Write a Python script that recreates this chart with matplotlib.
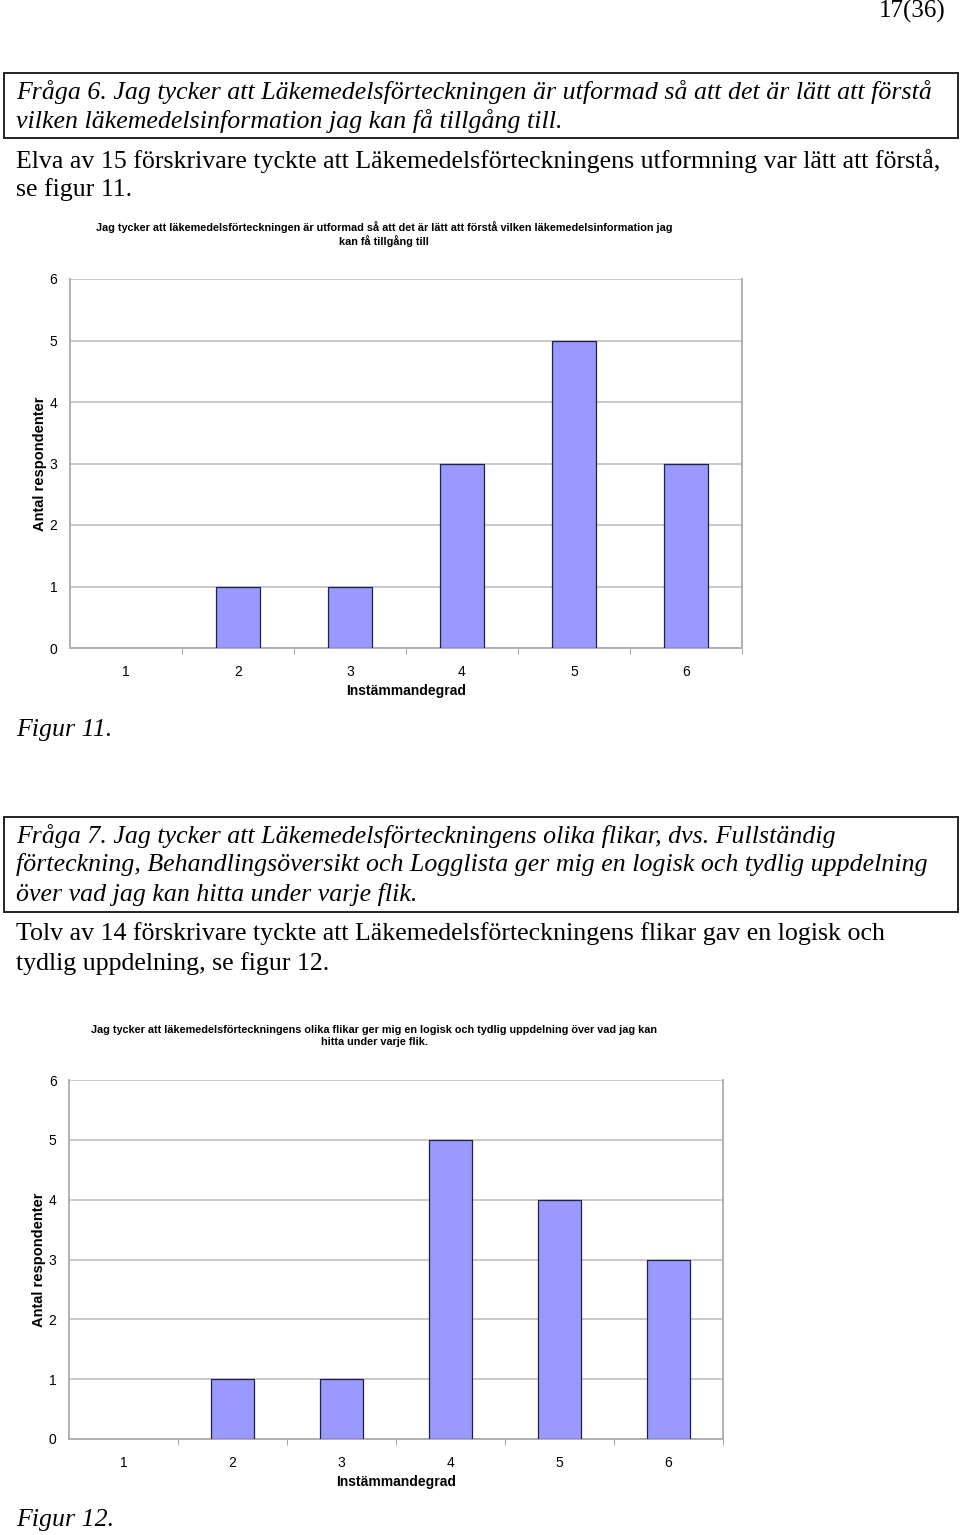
import matplotlib
matplotlib.use("Agg")
import matplotlib.pyplot as plt
from matplotlib.patches import Rectangle

W, H = 960, 1535

# data
categories = [1, 2, 3, 4, 5, 6]
fig11_values = [0, 1, 1, 3, 5, 3]
fig12_values = [0, 1, 1, 5, 4, 3]
yticks = [0, 1, 2, 3, 4, 5, 6]

fig11_title = ("Jag tycker att läkemedelsförteckningen är utformad så att det är lätt att förstå vilken läkemedelsinformation jag\n"
               "kan få tillgång till")
fig12_title = ("Jag tycker att läkemedelsförteckningens olika flikar ger mig en logisk och tydlig uppdelning över vad jag kan\n"
               "hitta under varje flik.")

serif = ["Liberation Serif", "DejaVu Serif"]
sans = ["Liberation Sans Narrow", "Liberation Sans", "DejaVu Sans"]
BODY = 18.6

fig = plt.figure(figsize=(W / 100, H / 100), dpi=100)


def fx(x):
    return x / W


def fy(y):
    return 1 - y / H


def txt(x, y, s, size, style="normal", ha="left", family=serif, weight="normal"):
    fig.text(fx(x), fy(y), s, fontsize=size, style=style, ha=ha, va="center",
             family=family, weight=weight)


def box(y0, y1):
    fig.patches.append(Rectangle((fx(4), fy(y1)), fx(954), (y1 - y0) / H,
                                 transform=fig.transFigure, fill=False,
                                 edgecolor="#222222", lw=1.4))


def chart(left, right, top, bottom, values, title, title_y, title_x, xlabel_y):
    ax = fig.add_axes([fx(left), fy(bottom), (right - left) / W, (bottom - top) / H])
    # empty categories get no outline
    lws = [0.9 if v > 0 else 0 for v in values]
    ax.bar(categories, values, width=0.4, color="#9999ff", edgecolor="#20204a",
           linewidth=lws, zorder=3)
    ax.set_xlim(0.5, 6.5)
    ax.set_ylim(0, 6)
    ax.set_yticks(yticks)
    ax.set_xticks(categories)
    ax.set_xticks([c + 0.5 for c in categories], minor=True)
    ax.tick_params(axis="x", which="major", length=0, pad=12, labelsize=10)
    ax.tick_params(axis="x", which="minor", length=4, color="#999999", direction="out")
    ax.tick_params(axis="y", length=0, pad=9, labelsize=10)
    for lab in ax.get_xticklabels() + ax.get_yticklabels():
        lab.set_family(sans)
    ax.yaxis.grid(True, color="#c0c0c0", lw=1.2, zorder=0)
    for sp in ax.spines.values():
        sp.set_color("#b0b0b0")
        sp.set_linewidth(1.4)
    ax.spines["top"].set_visible(False)
    ax.set_ylabel("Antal respondenter", fontsize=10.5, weight="bold",
                  family=["Liberation Sans", "DejaVu Sans"], labelpad=2)
    fig.text(fx((left + right) / 2), fy(xlabel_y), "Instämmandegrad", ha="center",
             va="center", fontsize=10, weight="bold", family=sans)
    fig.text(fx(title_x), fy(title_y), title, ha="center", va="center",
             fontsize=7.8, weight="bold", family=sans, linespacing=1.25)
    return ax


# page header
txt(946, 11, "17(36)", 18, ha="right")

# question 6
box(73, 138)
txt(16, 92, "Fråga 6. Jag tycker att Läkemedelsförteckningen är utformad så att det är lätt att förstå", BODY, style="italic")
txt(16, 121, "vilken läkemedelsinformation jag kan få tillgång till.", BODY, style="italic")
txt(16, 161, "Elva av 15 förskrivare tyckte att Läkemedelsförteckningens utformning var lätt att förstå,", BODY)
txt(16, 190, "se figur 11.", BODY)

chart(70, 742, 279, 648, fig11_values, fig11_title, 234, 384, 691)
txt(16, 730, "Figur 11.", BODY, style="italic")

# question 7
box(817, 912)
txt(16, 836, "Fråga 7. Jag tycker att Läkemedelsförteckningens olika flikar, dvs. Fullständig", BODY, style="italic")
txt(16, 865, "förteckning, Behandlingsöversikt och Logglista ger mig en logisk och tydlig uppdelning", BODY, style="italic")
txt(16, 895, "över vad jag kan hitta under varje flik.", BODY, style="italic")
txt(16, 934, "Tolv av 14 förskrivare tyckte att Läkemedelsförteckningens flikar gav en logisk och", BODY)
txt(16, 964, "tydlig uppdelning, se figur 12.", BODY)

chart(69, 723, 1080, 1439, fig12_values, fig12_title, 1036, 374, 1482)
txt(16, 1520, "Figur 12.", BODY, style="italic")

fig.savefig("out.png", dpi=100)
